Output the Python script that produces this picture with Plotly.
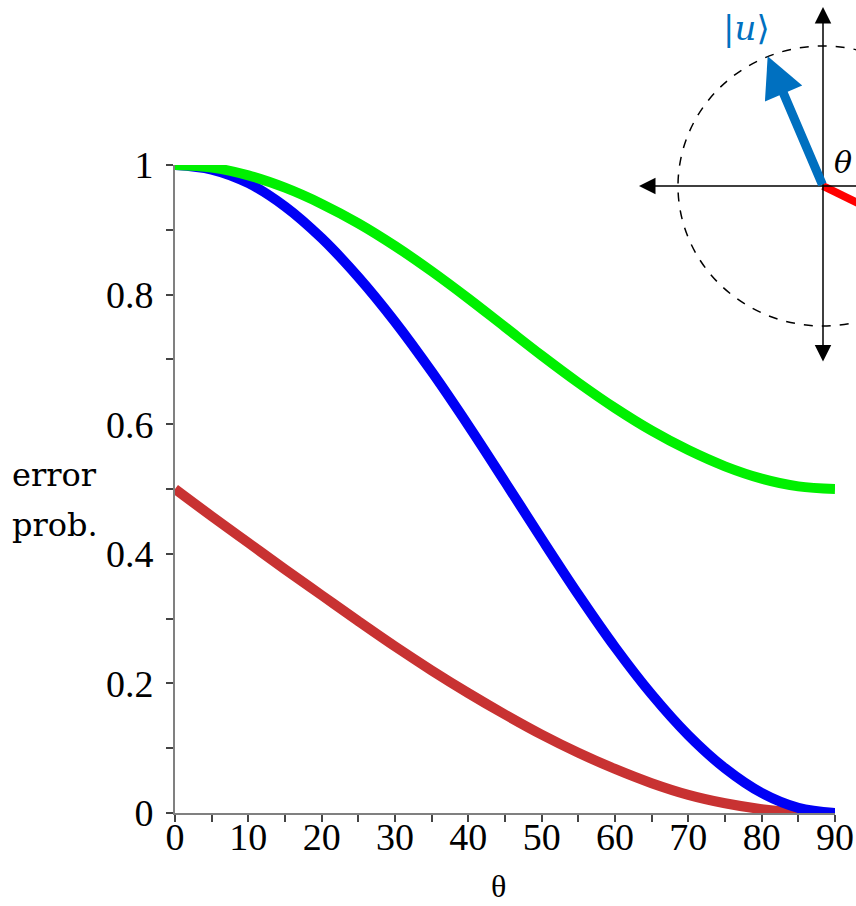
import math
import plotly.graph_objects as go

# Error probability versus angle theta (degrees)
theta = [0, 5, 10, 15, 20, 25, 30, 35, 40, 45, 50, 55, 60, 65, 70, 75, 80, 85, 90]
err_green = [1.000, 0.996, 0.984, 0.965, 0.940, 0.910, 0.875, 0.836, 0.794, 0.750,
             0.706, 0.664, 0.625, 0.590, 0.560, 0.535, 0.516, 0.504, 0.500]
err_blue = [1.000, 0.993, 0.972, 0.936, 0.887, 0.827, 0.758, 0.681, 0.598, 0.511,
            0.423, 0.337, 0.256, 0.183, 0.120, 0.069, 0.031, 0.008, 0.000]
err_red = [0.500, 0.458, 0.417, 0.376, 0.336, 0.296, 0.257, 0.220, 0.185, 0.152,
           0.121, 0.093, 0.068, 0.046, 0.028, 0.015, 0.006, 0.001, 0.000]

x_ticks = [0, 10, 20, 30, 40, 50, 60, 70, 80, 90]
y_ticks = [0, 0.2, 0.4, 0.6, 0.8, 1]
y_tick_text = ["0", "0.2", "0.4", "0.6", "0.8", "1"]

W, H = 856, 906

# Geometry of the small state diagram (pixel-like units, origin at its centre)
circle_rx, circle_ry = 145, 140
u_angle_deg, u_len = 113.1, 141
v_angle_deg = -26.0
axis_left, axis_top, axis_bottom = -184, 179, -177

fig = go.Figure()

# drawn red first, then blue, green on top
series = [
    (err_red, "#c83232"),
    (err_blue, "#0000f5"),
    (err_green, "#00f000"),
]
for vals, col in series:
    fig.add_trace(go.Scatter(
        x=theta, y=vals, mode="lines",
        line=dict(color=col, width=10, shape="spline", smoothing=1.0),
        cliponaxis=False, hoverinfo="skip", showlegend=False,
    ))

# invisible anchor so the diagram subplot is created
fig.add_trace(go.Scatter(x=[0], y=[0], xaxis="x2", yaxis="y2", mode="markers",
                         marker=dict(opacity=0), hoverinfo="skip", showlegend=False))

tick_font = dict(family="Liberation Serif", size=38, color="black")
minor_ticks = dict(ticks="outside", ticklen=7, tickwidth=1.5, tickcolor="#444444")
axis_common = dict(
    showgrid=False, zeroline=False, showline=True, linecolor="#808080", linewidth=2,
    ticks="outside", ticklen=7, tickwidth=1.5, tickcolor="#444444",
    tickfont=tick_font, layer="below traces", fixedrange=True, automargin=False,
)

fig.update_layout(
    width=W, height=H,
    margin=dict(l=0, r=0, t=0, b=0, autoexpand=False),
    paper_bgcolor="white", plot_bgcolor="white",
    showlegend=False,
    xaxis=dict(
        domain=[175 / W, 835 / W], range=[0, 90],
        tickvals=x_ticks, ticktext=[str(v) for v in x_ticks],
        minor=dict(dtick=5, tick0=0, **minor_ticks),
        ticklabelstandoff=-18,
        **axis_common,
    ),
    yaxis=dict(
        domain=[(H - 813) / H, (H - 165) / H], range=[0, 1],
        tickvals=y_ticks, ticktext=y_tick_text,
        minor=dict(dtick=0.1, tick0=0, **minor_ticks),
        ticklabelstandoff=5,
        **axis_common,
    ),
    xaxis2=dict(domain=[600 / W, 1], range=[-223, 33], visible=False, fixedrange=True, anchor="y2"),
    yaxis2=dict(domain=[(H - 370) / H, 1], range=[-184, 186], visible=False, fixedrange=True, anchor="x2"),
)

# axis titles
fig.add_annotation(text="θ", xref="paper", yref="paper", x=498 / W, y=1 - 886 / H,
                   xanchor="center", yanchor="middle", showarrow=False,
                   font=dict(family="Liberation Serif", size=32, color="black"))
for txt, yc in [("error", 475), ("prob.", 525)]:
    fig.add_annotation(text=txt, xref="paper", yref="paper", x=10 / W, y=1 - yc / H,
                       xanchor="left", yanchor="middle", showarrow=False,
                       font=dict(family="DejaVu Serif", size=32, color="black"))

# --- state diagram ---
fig.add_shape(type="circle", xref="x2", yref="y2",
              x0=-circle_rx, x1=circle_rx, y0=-circle_ry, y1=circle_ry,
              line=dict(color="black", width=1.5, dash="dash"))

# coordinate axes with arrow heads
fig.add_annotation(xref="x2", yref="y2", axref="x2", ayref="y2",
                   x=axis_left, y=0, ax=40, ay=0, text="", showarrow=True,
                   arrowhead=2, arrowsize=2.2, arrowwidth=1.5, arrowcolor="black", standoff=0)
fig.add_annotation(xref="x2", yref="y2", axref="x2", ayref="y2",
                   x=0, y=axis_top, ax=0, ay=axis_bottom, text="", showarrow=True,
                   arrowhead=2, startarrowhead=2, arrowside="end+start",
                   arrowsize=2.2, startarrowsize=2.2, arrowwidth=1.5, arrowcolor="black",
                   standoff=0, startstandoff=0)

# red reference direction
v_len = 80
fig.add_shape(type="line", xref="x2", yref="y2", x0=0, y0=0,
              x1=v_len * math.cos(math.radians(v_angle_deg)),
              y1=v_len * math.sin(math.radians(v_angle_deg)),
              line=dict(color="#ff0000", width=8))

# blue state vector |u>
ux = u_len * math.cos(math.radians(u_angle_deg))
uy = u_len * math.sin(math.radians(u_angle_deg))
fig.add_annotation(xref="x2", yref="y2", axref="x2", ayref="y2",
                   x=ux, y=uy, ax=0, ay=0, text="", showarrow=True,
                   arrowhead=2, arrowsize=0.9, arrowwidth=9, arrowcolor="#0070c0", standoff=0)

fig.add_annotation(xref="x2", yref="y2", x=-77, y=158, text="|<i>u</i>⟩", showarrow=False,
                   font=dict(family="DejaVu Serif", size=34, color="#0070c0"))
fig.add_annotation(xref="x2", yref="y2", x=20, y=24, text="<i>θ</i>", showarrow=False,
                   font=dict(family="DejaVu Serif", size=30, color="black"))

fig.write_html("out.html")
